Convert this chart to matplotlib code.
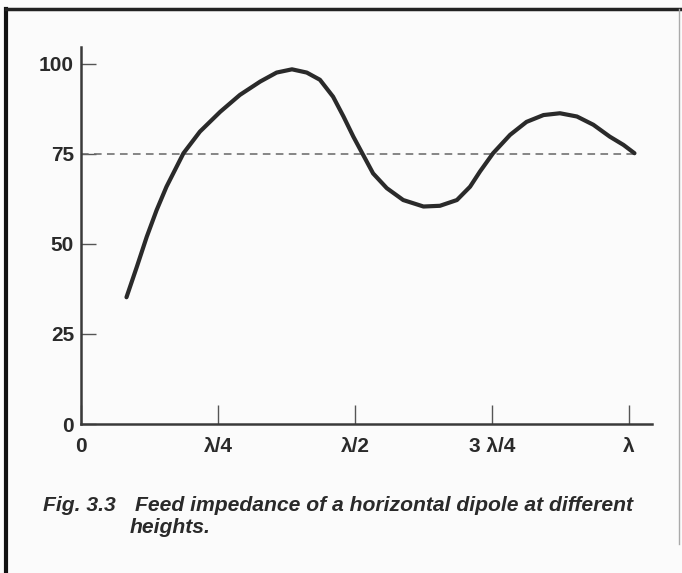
import numpy as np
import matplotlib.pyplot as plt
from matplotlib.lines import Line2D

# height above ground (in wavelengths) and feed impedance (ohms)
height = [0.083, 0.102, 0.120, 0.138, 0.156, 0.187, 0.217, 0.254, 0.290, 0.327,
          0.357, 0.385, 0.412, 0.436, 0.460, 0.479, 0.497, 0.515, 0.533, 0.558,
          0.588, 0.625, 0.655, 0.686, 0.710, 0.728, 0.752, 0.783, 0.813, 0.844,
          0.874, 0.905, 0.935, 0.965, 0.990, 1.010]
impedance = [35.2, 43.7, 52.0, 59.4, 65.9, 75.2, 81.2, 86.7, 91.4, 95.1,
             97.6, 98.5, 97.6, 95.6, 90.9, 85.4, 79.8, 74.7, 69.6, 65.5,
             62.2, 60.4, 60.6, 62.2, 65.9, 70.1, 75.2, 80.3, 83.9, 85.8,
             86.3, 85.4, 83.1, 79.8, 77.5, 75.2]
ref_level = 75
x_ticks = [0, 0.25, 0.5, 0.75, 1.0]
x_labels = ["0", "λ/4", "λ/2", "3 λ/4", "λ"]
y_ticks = [0, 25, 50, 75, 100]
fig_no = "Fig. 3.3"
caption_1 = "Feed impedance of a horizontal dipole at different"
caption_2 = "heights."

plt.rcParams['font.family'] = ['Liberation Sans', 'DejaVu Sans']
bg = "#fbfbfb"
ink = "#2a2a2a"

fig = plt.figure(figsize=(6.82, 5.73), dpi=100, facecolor=bg)
ax = fig.add_axes([81 / 682, 1 - 424 / 573, (652 - 81) / 682, (424 - 47) / 573])
ax.set_facecolor(bg)

ax.plot([0, height[-1]], [ref_level, ref_level], color="#666666", lw=1.1,
        dashes=(5, 3.5))
ax.plot(height, impedance, color=ink, lw=3.0, solid_capstyle="round",
        solid_joinstyle="round")

ax.set_xlim(0, 1.042)
ax.set_ylim(0, 104.7)
ax.set_xticks(x_ticks)
ax.set_xticklabels(x_labels)
ax.set_yticks(y_ticks)
for s in ["top", "right"]:
    ax.spines[s].set_visible(False)
for s in ["left", "bottom"]:
    ax.spines[s].set_color("#3a3a3a")
    ax.spines[s].set_linewidth(1.8)
ax.tick_params(axis="x", direction="in", length=13.5, width=1.0, color="#555555",
               pad=9, labelsize=15, labelcolor=ink)
ax.tick_params(axis="y", direction="in", length=11, width=1.0, color="#555555",
               pad=5, labelsize=15, labelcolor=ink)
for lab in ax.get_xticklabels() + ax.get_yticklabels():
    lab.set_fontweight("bold")

cap_kw = dict(fontsize=15.2, style="italic", fontweight="bold", color=ink,
              va="baseline", ha="left")
fig.text(43 / 682, 1 - 511 / 573, fig_no, **cap_kw)
fig.text(135 / 682, 1 - 511 / 573, caption_1, **cap_kw)
fig.text(130 / 682, 1 - 533 / 573, caption_2, **cap_kw)

# page frame
fig.add_artist(Line2D([6 / 682, 6 / 682], [0, 1 - 9 / 573], transform=fig.transFigure,
                      color="#111111", lw=3))
fig.add_artist(Line2D([6 / 682, 1], [1 - 9 / 573, 1 - 9 / 573], transform=fig.transFigure,
                      color="#222222", lw=2.5))
fig.add_artist(Line2D([679 / 682, 679 / 682], [0.05, 1 - 9 / 573], transform=fig.transFigure,
                      color="#aaaaaa", lw=1))

fig.savefig("out.png", dpi=100, facecolor=bg)
